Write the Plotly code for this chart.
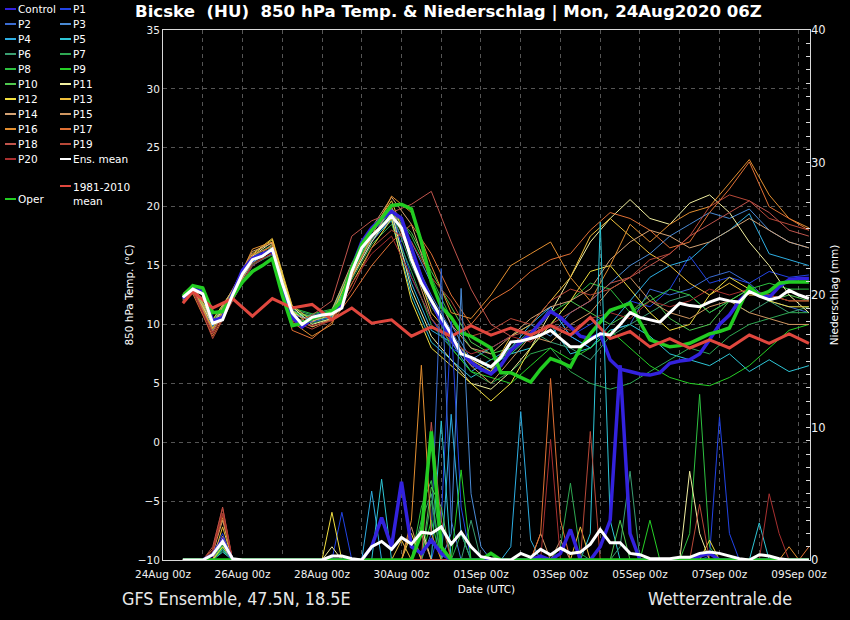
import pandas as pd
import plotly.graph_objects as go

# ---------------- data ----------------
t6 = pd.date_range("2020-08-24 12:00", periods=64, freq="6h")   # 6-hourly steps
t12 = [t6[0]] + list(t6[1::2])                                   # 06Z / 18Z steps

ens_mean_t = [12.3, 13.0, 12.6, 10.1, 10.4, 12.5, 14.3, 15.5, 15.8, 16.4,
              13.5, 11.0, 10.0, 10.6, 10.8, 10.9, 11.4, 14.5, 16.5, 17.5,
              18.3, 19.2, 18.2, 15.5, 13.5, 12.0, 10.6, 9.2, 7.5, 7.2,
              6.8, 6.4, 7.2, 8.5, 8.6, 8.8, 9.1, 9.5, 8.8, 8.1,
              8.1, 8.7, 9.2, 9.1, 10.0, 11.0, 10.6, 10.4, 10.2, 11.0,
              11.8, 11.6, 11.5, 11.9, 12.2, 12.0, 11.9, 12.8, 12.4, 12.1,
              12.3, 12.9, 12.5, 12.2]
oper_t = [12.4, 13.3, 13.1, 11.0, 11.1, 12.3, 13.6, 14.5, 15.0, 15.6,
          12.5, 9.9, 10.1, 10.5, 10.8, 11.1, 12.0, 14.8, 16.8, 18.0,
          19.0, 20.1, 20.2, 19.8, 17.0, 13.6, 11.5, 10.6, 9.3, 9.0,
          8.5, 8.0, 5.9, 5.9, 5.5, 5.1, 6.2, 7.1, 6.8, 6.4,
          8.0, 9.2, 10.2, 11.2, 11.5, 11.8, 10.2, 8.7, 8.4, 8.1,
          8.2, 8.4, 8.8, 9.2, 9.4, 9.7, 11.5, 13.2, 12.5, 12.8,
          13.5, 13.6, 13.6, 13.6]
control_t = [12.2, 13.0, 12.8, 10.3, 10.6, 12.6, 14.6, 15.6, 16.0, 16.3,
             13.0, 10.6, 9.8, 10.5, 10.9, 11.0, 11.6, 14.8, 17.0, 18.2,
             19.0, 19.6, 19.0, 16.5, 14.0, 12.0, 10.2, 8.8, 7.6, 6.8,
             6.2, 5.8, 6.5, 7.8, 8.5, 9.2, 10.2, 11.1, 10.6, 9.8,
             9.0, 8.8, 9.2, 7.0, 6.2, 6.0, 5.8, 5.7, 5.9, 6.7,
             6.9, 7.0, 7.5, 8.7, 10.0, 10.8, 12.0, 12.9, 12.6, 12.3,
             13.2, 13.8, 13.9, 13.9]
clim_t = [11.8, 12.8, 11.4, 12.2, 10.7, 12.2, 11.4, 11.7, 10.4, 11.4,
          10.1, 10.4, 9.0, 9.8, 9.0, 9.9, 9.1, 9.7, 9.1, 9.9,
          9.1, 10.6, 8.8, 9.4, 8.1, 8.8, 8.0, 8.7, 8.0, 9.1,
          8.4, 9.2, 8.4]

# perturbed members, temperature at 06Z/18Z steps
p1_t = [12.2, 13.0, 9.8, 12.4, 15.3, 16.2, 10.8, 10.4, 11.0, 14.8, 17.8, 19.5, 14.0, 10.5, 8.0, 7.0, 6.0, 7.5, 9.0, 10.0, 9.0, 10.0, 11.0, 12.0, 11.5, 13.0, 15.8, 13.5, 14.0, 13.5, 14.5, 14.0, 14.2]
p2_t = [12.0, 12.8, 9.5, 12.0, 15.0, 16.0, 10.5, 10.2, 10.6, 14.0, 17.0, 19.0, 16.0, 12.5, 9.5, 6.5, 6.0, 8.0, 9.0, 11.5, 9.0, 8.0, 9.5, 10.0, 13.0, 12.5, 13.0, 14.0, 14.5, 13.5, 12.0, 11.5, 11.0]
p3_t = [12.4, 13.2, 10.0, 12.6, 15.4, 16.5, 11.2, 10.5, 10.8, 14.2, 17.4, 19.8, 17.0, 13.5, 10.0, 7.0, 8.0, 9.0, 10.0, 9.0, 11.0, 12.0, 13.5, 15.0, 16.0, 17.5, 18.5, 19.5, 19.0, 19.8, 18.0, 17.0, 16.5]
p4_t = [12.1, 12.9, 10.2, 12.3, 15.6, 16.3, 10.9, 10.7, 11.1, 14.6, 17.6, 19.0, 13.5, 9.5, 8.5, 6.0, 7.0, 8.0, 10.0, 11.5, 9.0, 8.0, 10.0, 12.0, 14.0, 15.0, 15.5, 17.0, 18.0, 19.4, 16.0, 15.5, 15.0]
p5_t = [12.3, 13.1, 9.9, 12.7, 15.2, 16.6, 11.1, 10.3, 10.7, 14.3, 17.2, 18.8, 12.5, 8.5, 7.0, 5.5, 6.5, 7.5, 8.0, 10.0, 7.5, 8.0, 9.5, 10.0, 9.0, 7.5, 7.0, 6.5, 7.5, 6.0, 7.0, 6.0, 6.5]
p6_t = [12.5, 13.3, 10.3, 12.8, 15.7, 16.8, 11.3, 10.8, 11.2, 14.9, 17.9, 19.6, 15.0, 11.5, 9.0, 7.0, 6.0, 8.0, 9.5, 8.5, 8.0, 7.0, 9.0, 10.0, 11.0, 12.0, 12.5, 11.0, 12.0, 11.0, 12.0, 11.0, 11.5]
p7_t = [12.0, 12.7, 9.6, 12.2, 15.1, 15.9, 10.6, 10.1, 10.5, 13.8, 16.8, 18.5, 14.5, 10.0, 8.0, 6.0, 5.0, 6.0, 7.5, 8.0, 6.0, 5.0, 4.5, 5.0, 6.0, 7.0, 8.0, 7.5, 9.0, 10.0, 10.5, 11.0, 11.0]
p8_t = [12.6, 13.4, 10.4, 12.9, 15.8, 16.7, 11.4, 10.9, 11.3, 15.0, 18.0, 19.9, 17.5, 14.0, 10.5, 8.0, 7.0, 7.5, 9.0, 11.0, 12.0, 13.5, 13.0, 11.0, 12.0, 13.0, 12.5, 11.0, 12.0, 13.0, 13.5, 13.0, 13.0]
p9_t = [12.2, 13.1, 10.1, 12.5, 15.5, 16.4, 11.0, 10.6, 10.9, 14.4, 17.5, 19.3, 16.5, 12.0, 8.0, 6.0, 5.5, 5.0, 6.5, 8.0, 7.0, 8.0, 9.5, 8.0, 6.5, 5.5, 5.0, 4.8, 5.5, 6.5, 8.0, 9.5, 10.0]
p10_t = [12.4, 13.2, 10.2, 12.6, 15.6, 16.5, 11.1, 10.7, 11.0, 14.6, 17.6, 19.4, 17.8, 14.5, 11.5, 8.5, 7.5, 8.0, 9.0, 10.0, 12.0, 11.0, 10.0, 11.0, 12.5, 10.5, 9.5, 10.0, 12.0, 13.0, 12.0, 12.5, 12.0]
p11_t = [12.3, 13.0, 10.0, 12.4, 15.8, 17.0, 11.5, 10.0, 10.5, 14.0, 17.0, 19.5, 13.0, 9.0, 7.0, 5.0, 4.5, 6.0, 8.0, 11.0, 14.0, 17.0, 19.0, 20.6, 19.0, 18.5, 20.3, 21.0, 19.5, 17.0, 15.0, 12.5, 11.0]
p12_t = [12.1, 12.8, 9.7, 12.2, 15.9, 17.2, 11.2, 9.8, 10.4, 13.5, 16.5, 19.0, 12.0, 8.0, 6.5, 5.0, 3.5, 5.0, 8.0, 10.0, 12.0, 14.5, 15.0, 13.0, 11.0, 9.5, 10.0, 12.5, 14.0, 13.0, 12.0, 11.5, 11.5]
p13_t = [12.5, 13.3, 10.4, 12.9, 16.0, 17.3, 11.6, 10.3, 10.8, 14.8, 18.0, 20.5, 16.0, 11.0, 9.0, 7.0, 6.0, 9.0, 10.0, 12.0, 14.0, 17.5, 19.0, 17.5, 16.0, 15.0, 13.5, 12.5, 13.5, 12.5, 12.5, 12.0, 12.0]
p14_t = [12.6, 13.4, 10.0, 13.0, 16.2, 16.9, 11.0, 10.2, 11.2, 15.2, 18.2, 20.8, 18.5, 13.5, 10.0, 8.0, 7.5, 9.0, 10.5, 11.5, 12.0, 13.0, 15.5, 17.0, 18.0, 17.5, 16.5, 17.0, 18.0, 19.0, 18.0, 17.0, 16.5]
p15_t = [12.2, 12.9, 9.4, 12.3, 15.4, 16.8, 10.6, 9.8, 10.5, 14.2, 17.3, 20.0, 15.5, 10.5, 8.5, 6.5, 5.0, 7.0, 9.0, 8.5, 10.0, 11.0, 13.0, 14.0, 12.0, 11.0, 10.5, 11.5, 12.0, 11.0, 10.5, 10.0, 10.0]
p16_t = [12.4, 13.2, 9.6, 12.8, 16.4, 17.0, 10.2, 9.0, 10.0, 14.0, 17.5, 20.9, 19.5, 15.0, 11.0, 10.5, 12.5, 15.0, 16.0, 17.0, 14.0, 12.0, 15.0, 18.5, 17.0, 18.5, 19.5, 20.0, 22.0, 24.0, 21.0, 19.0, 18.2]
p17_t = [12.0, 12.6, 9.0, 12.1, 15.9, 16.6, 9.5, 8.8, 10.2, 12.5, 15.0, 17.0, 18.5, 16.0, 12.5, 10.0, 12.0, 13.0, 14.5, 15.5, 16.0, 18.0, 19.5, 19.0, 18.0, 16.5, 17.0, 19.5, 21.5, 23.8, 20.0, 19.0, 18.0]
p18_t = [12.3, 13.1, 9.2, 12.5, 15.7, 16.3, 10.0, 10.8, 12.0, 17.5, 18.8, 19.5, 20.2, 21.3, 17.0, 13.0, 10.0, 9.0, 9.5, 10.0, 11.0, 12.0, 13.5, 14.0, 15.0, 16.0, 17.5, 18.5, 19.5, 20.5, 19.5, 18.0, 17.5]
p19_t = [12.1, 13.0, 8.8, 12.0, 15.2, 16.0, 10.3, 9.6, 10.4, 13.0, 16.5, 18.0, 17.0, 14.0, 12.0, 9.0, 9.5, 10.5, 10.0, 12.0, 13.0, 12.5, 13.0, 14.0, 15.5, 16.0, 17.5, 20.0, 21.0, 20.5, 19.0, 18.5, 18.0]
p20_t = [12.0, 12.8, 9.3, 12.1, 15.0, 16.1, 10.4, 9.9, 10.3, 13.5, 16.0, 17.5, 14.0, 10.5, 8.5, 7.5, 8.0, 9.0, 8.5, 10.0, 9.5, 10.5, 11.0, 10.5, 12.0, 11.5, 12.0, 13.0, 12.5, 13.0, 12.5, 12.0, 12.0]

# precipitation (mm / 6 h), 6-hourly steps
ens_mean_p = [0, 0, 0, 0.4, 1.4, 0.1, 0, 0, 0, 0, 0, 0, 0, 0, 0, 0.3,
              0.3, 0.1, 0, 1.0, 1.4, 0.8, 1.7, 1.2, 2.1, 2.0, 2.5, 1.2, 2.1, 1.0, 0.25, 0.1,
              0, 0, 0.5, 0.2, 0.8, 0.4, 0.9, 0.5, 0.6, 1.2, 2.3, 1.3, 1.3, 0.5, 0.4, 0.1,
              0.1, 0.1, 0.2, 0.2, 0.5, 0.6, 0.5, 0.3, 0.1, 0, 0.4, 0.3, 0.1, 0, 0, 0]
oper_p = [0, 0, 0, 0, 0, 0, 0, 0, 0, 0, 0, 0, 0, 0, 0, 0,
          0, 0, 0, 0, 0, 0, 0, 0, 2.0, 9.7, 1.0, 0, 0, 0, 0, 0.5,
          0, 0, 0, 0, 0, 0, 0, 0, 0, 0, 0, 0, 0, 0, 0, 0,
          0, 0, 0, 0, 0, 0, 0, 0, 0, 0, 0, 0, 0, 0, 0, 0]
control_p = [0, 0, 0, 0.4, 1.5, 0, 0, 0, 0, 0, 0, 0, 0, 0, 0, 0,
             0, 0, 0, 1.0, 3.2, 1.0, 5.9, 1.0, 0.5, 1.5, 0.5, 0, 0, 0, 0, 0,
             0, 0, 0, 0, 0.3, 0, 0.5, 2.3, 0, 0, 1.0, 3.0, 14.7, 2.0, 0, 0,
             0, 0, 0, 0, 0.3, 0.5, 0, 0, 0, 0, 0, 0, 0, 0, 0, 0]
p1_p = [0, 0, 0, 0.5, 2.0, 0, 0, 0, 0, 0, 0, 0, 0, 0, 0, 0,
        3.6, 0, 0, 0, 0, 0, 0, 0, 0, 0, 3.0, 18.0, 4.0, 0, 0, 0,
        0, 0, 0, 0, 0, 0, 0, 0, 0, 0, 0, 0, 0, 0, 0, 0,
        0, 0, 0, 0, 0, 0.3, 10.8, 2.0, 0, 0, 0, 0, 0, 0, 0, 0]
p2_p = [0, 0, 0, 0, 1.2, 0, 0, 0, 0, 0, 0, 0, 0, 0, 0, 0,
        0, 0, 0, 0, 0, 0, 0, 0, 0, 2.0, 22.0, 3.0, 0, 0, 0, 0,
        0, 0, 0, 0, 0, 0, 0, 0, 0, 0, 0, 0, 0, 0, 0, 0,
        0, 0, 0, 0, 0, 0, 0, 0, 0, 0, 0, 0, 0, 0, 0, 0]
p3_p = [0, 0, 0, 0, 1.0, 0, 0, 0, 0, 0, 0, 0, 0, 0, 0, 0,
        0, 0, 0, 0, 0, 0, 0, 0, 0, 0, 0, 2.0, 20.5, 5.0, 1.0, 0,
        0, 0, 0, 0, 0, 0, 0, 0, 0, 0, 0, 0, 0, 0, 0, 0,
        0, 0, 0, 0, 0, 0, 0, 0, 0, 0, 0, 0, 0, 0, 0, 0]
p4_p = [0, 0, 0, 0, 0.8, 0, 0, 0, 0, 0, 0, 0, 0, 0, 0, 0,
        0, 0, 0, 5.2, 0, 0, 0, 0, 0, 0, 0, 11.0, 2.0, 0, 0, 0,
        0, 1.0, 11.2, 1.5, 0, 0, 0, 0, 0, 0, 0, 0, 0, 0, 0, 0,
        0, 0, 0, 0, 0, 0, 0, 0, 0, 0, 0, 0, 0, 0, 0, 0]
p5_p = [0, 0, 0, 0, 0.6, 0, 0, 0, 0, 0, 0, 0, 0, 0, 0, 0,
        0, 0, 0, 0, 6.1, 0, 0, 0, 0, 0, 10.5, 0, 0, 0, 0, 0,
        0, 0, 0, 0, 0, 0, 0, 0, 0, 2.0, 25.5, 3.0, 0, 0, 0, 0,
        0, 0, 0, 0, 0, 0, 0, 0, 0, 0, 2.8, 0, 0, 0, 0, 0]
p6_p = [0, 0, 0, 0, 1.0, 0, 0, 0, 0, 0, 0, 0, 0, 0, 0, 0,
        0, 0, 0, 0, 0, 0, 0, 0, 3.0, 5.0, 0, 0, 0, 3.0, 0, 0,
        0, 0, 0, 0, 0, 0, 0, 0, 0, 0, 0, 0, 1.0, 6.7, 0, 0,
        0, 0, 0, 0, 0, 0, 0, 0, 0, 0, 0, 0, 0, 0, 0, 0]
p7_p = [0, 0, 0, 0, 0.7, 0, 0, 0, 0, 0, 0, 0, 0, 0, 0, 0,
        0, 0, 0, 0, 0, 0, 0, 0, 0, 4.5, 0, 0, 2.0, 0, 0, 0,
        0, 0, 0, 0, 0, 0, 1.0, 5.8, 0.5, 0, 0, 0, 0, 0, 0, 0,
        0, 0, 0, 0, 0, 0, 0, 0, 0, 0, 0, 0, 0, 0, 0, 0]
p8_p = [0, 0, 0, 0, 0.9, 0, 0, 0, 0, 0, 0, 0, 0, 0, 0, 0,
        0, 0, 0, 0, 0, 0, 0, 0, 4.0, 6.0, 1.0, 0, 0, 0, 0, 0,
        0, 0, 0, 0, 0, 0, 0, 0, 0, 0, 0, 0, 0, 0, 0, 0,
        0, 0, 0, 2.0, 12.5, 1.0, 0, 0, 0, 0, 0, 0, 0, 0, 0, 0]
p9_p = [0, 0, 0, 0, 1.1, 0, 0, 0, 0, 0, 0, 0, 0, 0, 0, 0,
        0, 0, 0, 0, 0, 0, 0, 0, 0, 3.0, 0, 0, 6.8, 0, 0, 0,
        0, 0, 0, 0, 0, 0, 0, 0, 0, 0, 0, 0, 0, 0, 0, 3.0,
        0, 0, 0, 0, 0, 0, 0, 0, 0, 0, 0, 0, 0, 0, 0, 0]
p10_p = [0, 0, 0, 0, 1.3, 0, 0, 0, 0, 0, 0, 0, 0, 0, 0, 0,
         0, 0, 0, 0, 0, 0, 0, 0, 0, 5.5, 4.0, 0, 0, 0, 0, 0,
         0, 0, 0, 0, 0, 0, 0, 0, 0, 0, 0, 0, 3.0, 0, 0, 0,
         0, 0, 0, 0, 0, 0, 0, 0, 0, 0, 0, 0, 0, 0, 0, 0]
p11_p = [0, 0, 0, 0, 0, 0, 0, 0, 0, 0, 0, 0, 0, 0, 0, 1.0,
         0, 0, 0, 0, 0, 0, 0, 0, 2.5, 0, 0, 0, 0, 0, 0, 0,
         0, 0, 0, 0, 0, 0, 0, 0, 0, 0, 0, 0, 0, 0, 0, 0,
         0, 0, 0, 6.7, 2.0, 0, 0, 0, 0, 0, 0, 0, 0, 0, 0, 0]
p12_p = [0, 0, 0, 0, 1.0, 0, 0, 0, 0, 0, 0, 0, 0, 0, 0, 3.6,
         0, 0, 0, 0, 0, 0, 0, 2.0, 0, 0, 0, 0, 0, 0, 0, 0,
         0, 0, 0, 0, 0, 0, 0, 0, 0, 0, 0, 0, 0, 0, 0, 0,
         0, 0, 0, 0, 0, 1.5, 0, 0, 0, 0, 0, 0, 0, 0, 0, 0]
p13_p = [0, 0, 0, 0, 2.5, 0, 0, 0, 0, 0, 0, 0, 0, 0, 0, 0,
         0, 0, 0, 0, 0, 0, 1.5, 0, 0, 0, 0, 0, 0, 0, 0, 0,
         0, 0, 0, 0, 0, 0, 0, 0, 2.5, 0, 0, 0, 0, 0, 0, 0,
         0, 0, 0, 0, 0, 0, 0, 0, 0, 0, 0, 0, 0, 0, 0, 0]
p14_p = [0, 0, 0, 0.5, 3.0, 0, 0, 0, 0, 0, 0, 0, 0, 0, 0, 0,
         0, 0, 0, 0, 0, 0, 0, 0, 2.0, 0, 0, 0, 0, 0, 0, 0,
         0, 0, 0, 0, 0, 0, 1.5, 0, 0, 0, 0, 0, 0, 0, 0, 0,
         0, 0, 0, 0, 0, 0, 0, 0, 0, 0, 0, 0, 0, 0, 0, 0]
p15_p = [0, 0, 0, 0, 1.8, 0, 0, 0, 0, 0, 0, 0, 0, 0, 0, 0,
         0, 0, 0, 0, 0, 0, 0, 2.5, 0, 0, 0, 0, 0, 0, 0, 0,
         0, 0, 0, 0, 2.0, 0, 0, 0, 0, 0, 0, 0, 0, 0, 0, 0,
         0, 0, 0, 0, 0, 0, 0, 0, 0, 0, 0, 0, 0, 0, 0, 0]
p16_p = [0, 0, 0, 0.8, 3.2, 0, 0, 0, 0, 0, 0, 0, 0, 0, 0, 0,
         0, 0, 0, 0, 0, 0, 0, 3.0, 14.7, 2.0, 0, 0, 0, 0, 0, 0,
         0, 0, 0, 0, 0, 0, 0, 0, 0, 0, 0, 0, 0, 0, 0, 0,
         0, 0, 0, 0, 0, 0, 0, 0, 0, 0, 0, 0, 0, 1.0, 0, 0]
p17_p = [0, 0, 0, 0.5, 3.5, 0, 0, 0, 0, 0, 0, 0, 0, 0, 0, 0,
         0, 0, 0, 0, 0, 0, 0, 0, 0, 0, 0, 0, 0, 0, 0, 0,
         0, 0, 0, 0, 2.0, 13.7, 3.0, 0, 0, 0, 0, 0, 0, 0, 0, 0,
         0, 0, 0, 0, 0, 0, 0, 0, 0, 0, 0, 0, 0, 0, 0, 1.0]
p18_p = [0, 0, 0, 1.0, 4.0, 0, 0, 0, 0, 0, 0, 0, 0, 0, 0, 0,
         0, 0, 0, 0, 0, 0, 0, 0, 0, 10.4, 3.0, 0, 0, 0, 0, 0,
         0, 0, 0, 0, 0, 0, 0, 0, 0, 0, 0, 0, 0, 0, 0, 0,
         0, 0, 0, 0, 0, 0, 0, 0, 0, 0, 0, 0, 0, 0, 0, 0]
p19_p = [0, 0, 0, 0.8, 3.9, 0, 0, 0, 0, 0, 0, 0, 0, 0, 0, 0,
         0, 0, 0, 0, 0, 0, 0, 0, 0, 0, 0, 0, 0, 0, 0, 0,
         0, 0, 0, 0, 0, 0, 0, 0, 0, 9.7, 0, 0, 0, 0, 0, 0,
         0, 0, 0, 0, 4.2, 0, 0, 0, 0, 0, 0, 0, 0, 0, 0, 0]
p20_p = [0, 0, 0, 0.6, 3.5, 0, 0, 0, 0, 0, 0, 0, 0, 0, 0, 0,
         0, 0, 0, 0, 0, 0, 0, 0, 0, 0, 0, 0, 0, 0, 0, 0,
         0, 0, 0, 0, 0, 9.1, 0, 0, 0, 0, 0, 0, 0, 0, 0, 0,
         0, 0, 0, 0, 0, 0, 0, 0, 0, 0, 0, 5.0, 2.0, 0, 0, 0]

member_names = ["P%d" % i for i in range(1, 21)]
member_t = [p1_t, p2_t, p3_t, p4_t, p5_t, p6_t, p7_t, p8_t, p9_t, p10_t,
            p11_t, p12_t, p13_t, p14_t, p15_t, p16_t, p17_t, p18_t, p19_t, p20_t]
member_p = [p1_p, p2_p, p3_p, p4_p, p5_p, p6_p, p7_p, p8_p, p9_p, p10_p,
            p11_p, p12_p, p13_p, p14_p, p15_p, p16_p, p17_p, p18_p, p19_p, p20_p]
member_colors = ["#2244e6", "#3a6cd2", "#4a8ad4", "#2eaee2", "#2ec6d6",
                 "#3a9e72", "#2ea852", "#2ec040", "#26d026", "#4ec84e",
                 "#f2f0a0", "#f2e040", "#f0c03c", "#d4a274", "#d09660",
                 "#e28e30", "#e07034", "#c0544c", "#b84838", "#a83030"]
control_color = "#3322dd"
oper_color = "#22cc22"
mean_color = "#ffffff"
clim_color = "#e0473e"

# ---------------- geometry helpers (pixel -> paper) ----------------
L, R, T, B = 163, 810, 30, 560


def px(x):
    return (x - L) / (R - L)


def py(y):
    return (B - y) / (B - T)


fig = go.Figure()

for name, tv, pv, col in zip(member_names, member_t, member_p, member_colors):
    fig.add_trace(go.Scatter(x=t6, y=pv, yaxis="y2", mode="lines",
                             line=dict(color=col, width=1), name=name + " prec"))
    fig.add_trace(go.Scatter(x=t12, y=tv, mode="lines",
                             line=dict(color=col, width=1), name=name))

fig.add_trace(go.Scatter(x=t6, y=control_p, yaxis="y2", mode="lines",
                         line=dict(color=control_color, width=3.5), name="Control prec"))
fig.add_trace(go.Scatter(x=t6, y=control_t, mode="lines",
                         line=dict(color=control_color, width=3.5), name="Control"))
fig.add_trace(go.Scatter(x=t6, y=oper_p, yaxis="y2", mode="lines",
                         line=dict(color=oper_color, width=3.5), name="Oper prec"))
fig.add_trace(go.Scatter(x=t6, y=oper_t, mode="lines",
                         line=dict(color=oper_color, width=3.5), name="Oper"))
fig.add_trace(go.Scatter(x=t12, y=clim_t, mode="lines",
                         line=dict(color=clim_color, width=3), name="1981-2010 mean"))
fig.add_trace(go.Scatter(x=t6, y=ens_mean_p, yaxis="y2", mode="lines",
                         line=dict(color=mean_color, width=3), name="Ens. mean prec"))
fig.add_trace(go.Scatter(x=t6, y=ens_mean_t, mode="lines",
                         line=dict(color=mean_color, width=3), name="Ens. mean"))

grid_col = "#555555"
axis_col = "#d8d8d8"
tick_font = dict(family="DejaVu Sans", size=10.5, color="#f0f0f0")

xticks = pd.date_range("2020-08-24", "2020-09-09", freq="2D")

fig.update_layout(
    width=850, height=620, autosize=False,
    margin=dict(l=L, r=850 - R, t=T, b=620 - B),
    paper_bgcolor="black", plot_bgcolor="black",
    showlegend=False,
    font=dict(family="DejaVu Sans", color="white", size=10.5),
    xaxis=dict(type="date", range=["2020-08-24 00:00", "2020-09-09 06:39"],
               tickvals=list(xticks), tickformat="%d%b %Hz", tickfont=tick_font,
               ticklabelstandoff=4,
               showgrid=True, gridcolor=grid_col, griddash="4px,4px", gridwidth=1,
               minor=dict(dtick=86400000, tick0="2020-08-24", showgrid=True,
                          gridcolor=grid_col, griddash="4px,4px", gridwidth=1),
               showline=True, linecolor=axis_col, linewidth=1, mirror=True,
               zeroline=False, ticks="",
               title=dict(text="Date (UTC)", font=dict(size=10.5), standoff=7)),
    yaxis=dict(range=[-10, 35], tick0=-10, dtick=5, tickfont=tick_font,
               showgrid=True, gridcolor=grid_col, griddash="4px,4px", gridwidth=1,
               showline=True, linecolor=axis_col, linewidth=1, mirror=True,
               zeroline=False, ticks="",
               title=dict(text="850 hPa Temp. (°C)", font=dict(size=10.5), standoff=2)),
    yaxis2=dict(overlaying="y", side="right", range=[0, 40],
                tickvals=list(range(0, 41)),
                ticktext=[str(v) if v % 10 == 0 else "" for v in range(0, 41)],
                ticks="inside", ticklen=4, tickcolor=axis_col, tickwidth=1,
                tickfont=dict(family="DejaVu Sans", size=11.5, color="#f0f0f0"),
                showgrid=False, zeroline=False, showline=False,
                title=dict(text="Niederschlag (mm)", font=dict(size=10.5), standoff=6)),
)

annotations = []
shapes = []

# title and footer
annotations.append(dict(xref="paper", yref="paper", x=px(133), y=py(12),
                        xanchor="left", yanchor="middle", showarrow=False,
                        text="<b>Bicske\u00a0 (HU)\u00a0 850 hPa Temp. &amp; Niederschlag | Mon, 24Aug2020 06Z</b>",
                        font=dict(family="DejaVu Sans", size=16.6, color="white")))
annotations.append(dict(xref="paper", yref="paper", x=px(120), y=py(598),
                        xanchor="left", yanchor="middle", showarrow=False,
                        text="GFS Ensemble, 47.5N, 18.5E",
                        font=dict(family="DejaVu Sans Condensed, DejaVu Sans", size=17.8, color="#e8e8e8")))
annotations.append(dict(xref="paper", yref="paper", x=px(794), y=py(598),
                        xanchor="right", yanchor="middle", showarrow=False,
                        text="Wetterzentrale.de",
                        font=dict(family="DejaVu Sans Condensed, DejaVu Sans", size=17.8, color="#e8e8e8")))

# legend (two columns)
col1 = [("Control", control_color)] + [(member_names[i], member_colors[i]) for i in range(1, 20, 2)]
col2 = [(member_names[i], member_colors[i]) for i in range(0, 20, 2)] + [("Ens. mean", mean_color)]
row_y = [9 + 15 * k for k in range(11)]
leg_font = dict(family="DejaVu Sans", size=10.5, color="white")


def legend_item(xl, y, label, color, yanchor="middle", ytext=None):
    shapes.append(dict(type="line", xref="paper", yref="paper",
                       x0=px(xl), x1=px(xl + 11), y0=py(y), y1=py(y),
                       line=dict(color=color, width=2)))
    annotations.append(dict(xref="paper", yref="paper", x=px(xl + 11),
                            y=py(y if ytext is None else ytext),
                            xanchor="left", yanchor=yanchor, showarrow=False,
                            text=label, font=leg_font, align="left"))


for (lab, c), y in zip(col1, row_y):
    legend_item(5, y, lab, c)
for (lab, c), y in zip(col2, row_y):
    legend_item(60, y, lab, c)
legend_item(60, 186, "1981-2010<br>mean", clim_color, yanchor="top", ytext=179)
legend_item(5, 199, "Oper", oper_color)

fig.update_layout(annotations=annotations, shapes=shapes)
fig.write_html("out.html", config={"displayModeBar": False},
               post_script="document.body.style.margin='0';document.body.style.background='black';")
